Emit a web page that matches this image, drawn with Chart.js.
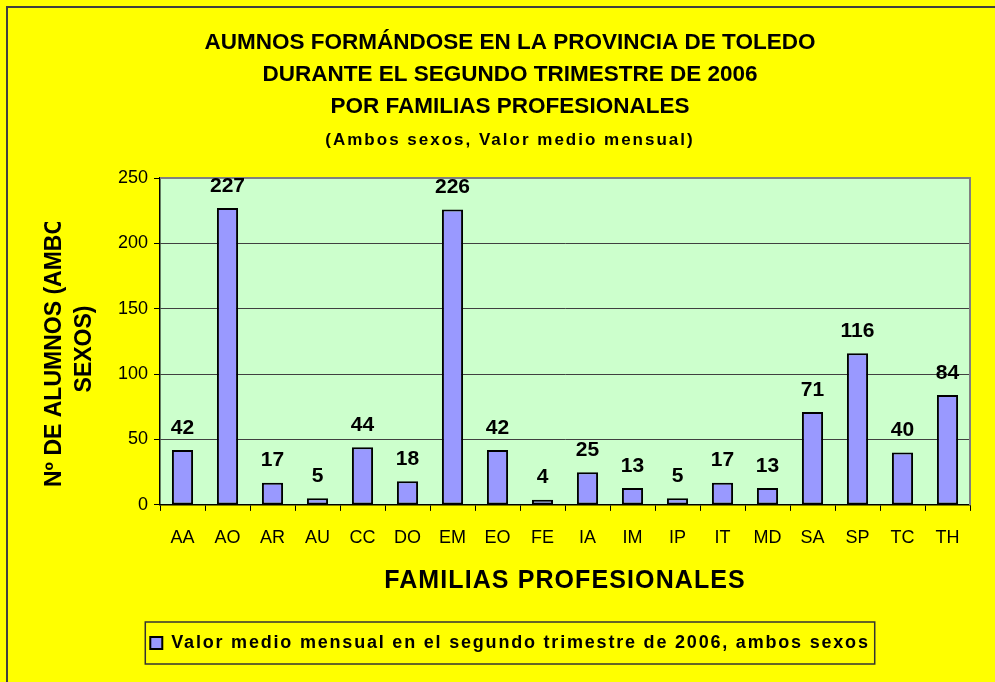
<!DOCTYPE html>
<html>
<head>
<meta charset="utf-8">
<script src="https://cdn.jsdelivr.net/npm/chart.js@4/dist/chart.umd.min.js"></script>
<style>
  html, body { margin: 0; padding: 0; background: #ffff00; }
  #wrap { width: 995px; height: 682px; }
</style>
</head>
<body>
<div id="wrap"><canvas id="chart" width="995" height="682"></canvas></div>
<script>
// datos
const categories = ['AA', 'AO', 'AR', 'AU', 'CC', 'DO', 'EM', 'EO', 'FE', 'IA', 'IM', 'IP', 'IT', 'MD', 'SA', 'SP', 'TC', 'TH'];
const alumnos = [42, 227, 17, 5, 44, 18, 226, 42, 4, 25, 13, 5, 17, 13, 71, 116, 40, 84];
const yTicks = [0, 50, 100, 150, 200, 250];

const titleLines = [
  'AUMNOS FORMÁNDOSE EN LA PROVINCIA DE TOLEDO',
  'DURANTE EL SEGUNDO TRIMESTRE DE 2006',
  'POR FAMILIAS PROFESIONALES'
];
const subtitleText = '(Ambos sexos, Valor medio mensual)';
const yTitleLines = ['Nº DE ALUMNOS (AMBOS', 'SEXOS)'];
const xTitle = 'FAMILIAS PROFESIONALES';
const seriesName = 'Valor medio mensual en el segundo trimestre de 2006, ambos sexos';

Chart.defaults.font.family = '"Liberation Sans", Arial, sans-serif';
Chart.defaults.color = '#000';

// wraps a draw/fit method so it runs with some letter spacing
function withSpacing(ctx, obj, fn, sp) {
  const orig = obj[fn].bind(obj);
  obj[fn] = function (...args) {
    ctx.save();
    ctx.letterSpacing = sp;
    const r = orig(...args);
    ctx.restore();
    return r;
  };
}

const excelLook = {
  id: 'excelLook',
  afterInit(chart) {
    const ctx = chart.ctx;
    withSpacing(ctx, chart.legend, 'fit', '1.8px');
    withSpacing(ctx, chart.legend, 'draw', '1.8px');
    const sub = chart.boxes.find(b => b !== chart.titleBlock && chart.titleBlock && b.constructor === chart.titleBlock.constructor);
    if (sub) withSpacing(ctx, sub, 'draw', '2px');
  },
  afterLayout(chart) {
    const x = chart.scales.x;
    if (x && !x._spWrapped) {
      withSpacing(chart.ctx, x, 'drawTitle', '1.1px');
      x._spWrapped = true;
    }
  },
  beforeDraw(chart) {
    const { ctx, chartArea: a } = chart;
    ctx.save();
    ctx.fillStyle = '#ffff00';
    ctx.fillRect(0, 0, chart.width, chart.height);
    ctx.fillStyle = '#ccffcc';
    ctx.fillRect(a.left, a.top, a.right - a.left, a.bottom - a.top);
    ctx.restore();
  },
  beforeDatasetsDraw(chart) {
    const { ctx, chartArea: a } = chart;
    ctx.save();
    ctx.strokeStyle = '#808080';
    ctx.lineWidth = 2;
    ctx.beginPath();
    ctx.moveTo(a.left, a.top);
    ctx.lineTo(a.right, a.top);
    ctx.lineTo(a.right, a.bottom);
    ctx.stroke();
    ctx.restore();
  },
  afterDatasetsDraw(chart) {
    const ctx = chart.ctx;
    const meta = chart.getDatasetMeta(0);
    ctx.save();
    ctx.font = 'bold 21px "Liberation Sans", Arial, sans-serif';
    ctx.fillStyle = '#000';
    ctx.textAlign = 'center';
    ctx.textBaseline = 'middle';
    meta.data.forEach((bar, i) => {
      ctx.fillText(String(alumnos[i]), bar.x, bar.y - 22);
    });
    ctx.restore();
  },
  afterDraw(chart) {
    const ctx = chart.ctx;
    ctx.save();
    // y axis title, first line cut at the top like the original
    ctx.font = 'bold 23px "Liberation Sans", Arial, sans-serif';
    ctx.fillStyle = '#000';
    ctx.textBaseline = 'middle';
    ctx.save();
    ctx.beginPath();
    ctx.rect(0, 222, 140, 460);
    ctx.clip();
    ctx.translate(55, 487);
    ctx.rotate(-Math.PI / 2);
    ctx.textAlign = 'left';
    ctx.fillText(yTitleLines[0], 0, 0);
    ctx.restore();
    ctx.save();
    ctx.translate(85, 349);
    ctx.rotate(-Math.PI / 2);
    ctx.textAlign = 'center';
    ctx.fillText(yTitleLines[1], 0, 0);
    ctx.restore();

    // frame round the legend
    const hb = chart.legend.legendHitBoxes[0];
    if (hb) {
      ctx.strokeStyle = '#333';
      ctx.lineWidth = 1.5;
      ctx.strokeRect(hb.left - 5, hb.top - 12, hb.width + 10, hb.height + 24);
    }

    // outer chart border (left and top only are visible)
    ctx.strokeStyle = '#404040';
    ctx.lineWidth = 2;
    ctx.beginPath();
    ctx.moveTo(7, chart.height);
    ctx.lineTo(7, 7);
    ctx.lineTo(chart.width, 7);
    ctx.stroke();
    ctx.restore();
  }
};

new Chart(document.getElementById('chart'), {
  type: 'bar',
  data: {
    labels: categories,
    datasets: [{
      label: seriesName,
      data: alumnos,
      backgroundColor: '#9999ff',
      borderColor: '#000',
      borderWidth: 2,
      borderSkipped: false,
      barPercentage: 0.47,
      categoryPercentage: 1.0
    }]
  },
  options: {
    responsive: false,
    animation: false,
    layout: { padding: { left: 50, right: 25, top: 0, bottom: 20 } },
    plugins: {
      title: {
        display: true,
        text: titleLines,
        font: { size: 22.5, weight: 'bold', lineHeight: 32 / 22.5 },
        padding: { top: 27, bottom: 0 }
      },
      subtitle: {
        display: true,
        text: subtitleText,
        font: { size: 17, weight: 'bold', lineHeight: 20 / 17 },
        padding: { top: 7, bottom: 28 }
      },
      legend: {
        position: 'bottom',
        labels: {
          font: { size: 18, weight: 'bold' },
          boxWidth: 12,
          boxHeight: 12,
          padding: 10
        }
      },
      tooltip: { enabled: false }
    },
    scales: {
      x: {
        grid: { drawOnChartArea: false, drawTicks: true, tickLength: 6, color: '#000' },
        border: { color: '#000', width: 1.5 },
        ticks: { font: { size: 18 }, padding: 16, maxRotation: 0 },
        title: {
          display: true,
          text: xTitle,
          font: { size: 25, weight: 'bold' },
          padding: { top: 1.5, bottom: 28 }
        }
      },
      y: {
        min: 0,
        max: 250,
        afterBuildTicks: s => { s.ticks = yTicks.map(v => ({ value: v })); },
        afterFit: s => { s.width = 110; },
        grid: { color: '#404040', lineWidth: 1, tickColor: '#000', tickLength: 6 },
        border: { color: '#000', width: 1.5 },
        ticks: { font: { size: 18 }, padding: 6 }
      }
    }
  },
  plugins: [excelLook]
});
</script>
</body>
</html>
